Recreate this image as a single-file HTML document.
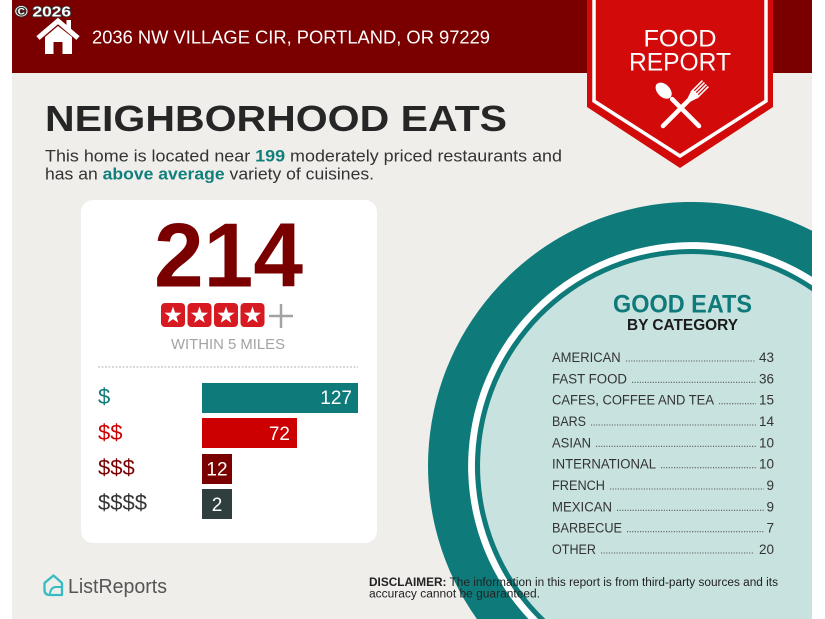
<!DOCTYPE html>
<html>
<head>
<meta charset="utf-8">
<style>
  html,body{margin:0;padding:0;background:#fff;width:825px;height:619px;overflow:hidden;}
  body{position:relative;}
  svg{position:absolute;left:0;top:0;display:block;}
  text{font-family:"Liberation Sans",Arial,sans-serif;}
</style>
</head>
<body>
<svg width="825" height="619" viewBox="0 0 825 619" xmlns="http://www.w3.org/2000/svg">
  <defs>
    <g id="star">
      <polygon points="0,-9 2.12,-2.91 8.56,-2.78 3.42,1.11 5.29,7.28 0,3.6 -5.29,7.28 -3.42,1.11 -8.56,-2.78 -2.12,-2.91" fill="#fff"/>
    </g>
  </defs>

  <!-- page card background -->
  <rect x="12" y="0" width="800" height="619" fill="#f0eeeb"/>

  <!-- big circle (pre-clipped arcs) -->
  <path d="M812,230.8 A264,264 0 0 0 476.9,619 L812,619 Z" fill="#0f7a7a"/>
  <path d="M812,276.9 A224,224 0 0 0 528.4,619 L812,619 Z" fill="#ffffff"/>
  <path d="M812,285.2 A217,217 0 0 0 538.1,619 L812,619 Z" fill="#0f7a7a"/>
  <path d="M812,291.2 A212,212 0 0 0 545.3,619 L812,619 Z" fill="#c7e2df"/>

  <!-- top bar -->
  <rect x="12" y="0" width="800" height="73" fill="#7a0000"/>

  <!-- house icon -->
  <path d="M45,37 L58,26 L72,37 V54 H62.5 V42 H53.5 V54 H45 Z" fill="#fff"/>
  <polyline points="38,38 58,21 78,38" fill="none" stroke="#fff" stroke-width="5"/>
  <rect x="66.5" y="20" width="4.5" height="10" fill="#fff"/>

  <!-- copyright -->
  <text x="15" y="16.5" font-size="15" font-weight="bold" fill="#fff" stroke="#333" stroke-width="1.6" paint-order="stroke" textLength="56" lengthAdjust="spacingAndGlyphs">© 2026</text>

  <!-- address -->
  <text x="92" y="43.5" font-size="18.6" fill="#fff" textLength="398" lengthAdjust="spacingAndGlyphs">2036 NW VILLAGE CIR, PORTLAND, OR 97229</text>

  <!-- banner -->
  <polygon points="587,0 773,0 773,107 680,168 587,107" fill="#d20a0a"/>
  <polyline points="594,0 594,101 680,156 766,101 766,0" fill="none" stroke="#fff" stroke-width="3.5"/>
  <text x="680" y="46.7" font-size="24" fill="#fff" text-anchor="middle" textLength="73" lengthAdjust="spacingAndGlyphs">FOOD</text>
  <text x="680" y="70.7" font-size="25" fill="#fff" text-anchor="middle" textLength="102" lengthAdjust="spacingAndGlyphs">REPORT</text>

  <!-- spoon -->
  <g transform="translate(699,126) rotate(-45)">
    <line x1="0" y1="0" x2="0" y2="-38" stroke="#fff" stroke-width="4.5" stroke-linecap="round"/>
    <ellipse cx="0" cy="-50" rx="6.3" ry="9.5" fill="#fff"/>
  </g>
  <!-- fork -->
  <g transform="translate(663,126) rotate(45)">
    <line x1="0" y1="0" x2="0" y2="-38" stroke="#fff" stroke-width="4.5" stroke-linecap="round"/>
    <path d="M-2.3,-37 L-5,-45 L5,-45 L2.3,-37 Z" fill="#fff"/>
    <rect x="-5" y="-47" width="10" height="3" fill="#fff"/>
    <rect x="-5" y="-60" width="1.6" height="14" fill="#fff"/>
    <rect x="-2.2" y="-60" width="1.6" height="14" fill="#fff"/>
    <rect x="0.6" y="-60" width="1.6" height="14" fill="#fff"/>
    <rect x="3.4" y="-60" width="1.6" height="14" fill="#fff"/>
  </g>

  <!-- title -->
  <text x="45" y="131" font-size="36.5" font-weight="bold" fill="#262626" textLength="462" lengthAdjust="spacingAndGlyphs">NEIGHBORHOOD EATS</text>

  <!-- subtitle -->
  <text x="45" y="161.7" font-size="17" fill="#333" textLength="517" lengthAdjust="spacingAndGlyphs">This home is located near <tspan font-weight="bold" fill="#117f7c">199</tspan> moderately priced restaurants and</text>
  <text x="45" y="179.3" font-size="17" fill="#333" textLength="329" lengthAdjust="spacingAndGlyphs">has an <tspan font-weight="bold" fill="#117f7c">above average</tspan> variety of cuisines.</text>

  <!-- white card -->
  <rect x="81" y="200" width="296" height="343" rx="12" ry="12" fill="#ffffff"/>

  <text x="154" y="286.7" font-size="91" font-weight="bold" fill="#7a0000" textLength="149" lengthAdjust="spacingAndGlyphs">214</text>

  <!-- stars -->
  <rect x="161" y="303" width="24" height="24" rx="4" fill="#d71a21"/>
  <rect x="187.5" y="303" width="24" height="24" rx="4" fill="#d71a21"/>
  <rect x="214" y="303" width="24" height="24" rx="4" fill="#d71a21"/>
  <rect x="240.5" y="303" width="24" height="24" rx="4" fill="#d71a21"/>
  <use href="#star" transform="translate(173,315.5)"/>
  <use href="#star" transform="translate(199.5,315.5)"/>
  <use href="#star" transform="translate(226,315.5)"/>
  <use href="#star" transform="translate(252.5,315.5)"/>
  <line x1="269" y1="316" x2="293" y2="316" stroke="#a3a3a3" stroke-width="2.5"/>
  <line x1="281" y1="304" x2="281" y2="328" stroke="#a3a3a3" stroke-width="2.5"/>

  <text x="171" y="349" font-size="15" fill="#a3a3a3" textLength="114" lengthAdjust="spacingAndGlyphs">WITHIN 5 MILES</text>

  <line x1="98" y1="367" x2="358" y2="367" stroke="#b5b5b5" stroke-width="1" stroke-dasharray="2 1.5"/>

  <!-- bars -->
  <rect x="202" y="383" width="156" height="30" fill="#0f7a7a"/>
  <rect x="202" y="418" width="95" height="30" fill="#cc0000"/>
  <rect x="202" y="454" width="30" height="30" fill="#7a0000"/>
  <rect x="202" y="489" width="30" height="30" fill="#2f3f3f"/>

  <text x="352" y="404" font-size="19" fill="#fff" text-anchor="end">127</text>
  <text x="290" y="440" font-size="19" fill="#fff" text-anchor="end">72</text>
  <text x="217" y="475.5" font-size="19" fill="#fff" text-anchor="middle">12</text>
  <text x="217" y="511" font-size="19" fill="#fff" text-anchor="middle">2</text>

  <text x="98" y="404" font-size="22" fill="#0f7a7a">$</text>
  <text x="98" y="440" font-size="22" fill="#cc0000">$$</text>
  <text x="98" y="475" font-size="22" fill="#7a0000">$$$</text>
  <text x="98" y="510" font-size="22" fill="#333">$$$$</text>

  <!-- good eats -->
  <text x="613" y="312.7" font-size="25" font-weight="bold" fill="#0f7a7a" textLength="139" lengthAdjust="spacingAndGlyphs">GOOD EATS</text>
  <text x="627" y="330" font-size="16" font-weight="bold" fill="#1a1a1a" textLength="111" lengthAdjust="spacingAndGlyphs">BY CATEGORY</text>

  <g font-size="13.5" fill="#333">
    <text x="552" y="362" textLength="68.7" lengthAdjust="spacingAndGlyphs">AMERICAN</text>
    <text x="774" y="362" text-anchor="end">43</text>
    <text x="552" y="383.3" textLength="75" lengthAdjust="spacingAndGlyphs">FAST FOOD</text>
    <text x="774" y="383.3" text-anchor="end">36</text>
    <text x="552" y="404.7" textLength="162" lengthAdjust="spacingAndGlyphs">CAFES, COFFEE AND TEA</text>
    <text x="774" y="404.7" text-anchor="end">15</text>
    <text x="552" y="426" textLength="34" lengthAdjust="spacingAndGlyphs">BARS</text>
    <text x="774" y="426" text-anchor="end">14</text>
    <text x="552" y="447.3" textLength="39" lengthAdjust="spacingAndGlyphs">ASIAN</text>
    <text x="774" y="447.3" text-anchor="end">10</text>
    <text x="552" y="468.7" textLength="104" lengthAdjust="spacingAndGlyphs">INTERNATIONAL</text>
    <text x="774" y="468.7" text-anchor="end">10</text>
    <text x="552" y="490" textLength="53" lengthAdjust="spacingAndGlyphs">FRENCH</text>
    <text x="774" y="490" text-anchor="end">9</text>
    <text x="552" y="511.3" textLength="60" lengthAdjust="spacingAndGlyphs">MEXICAN</text>
    <text x="774" y="511.3" text-anchor="end">9</text>
    <text x="552" y="532.7" textLength="70" lengthAdjust="spacingAndGlyphs">BARBECUE</text>
    <text x="774" y="532.7" text-anchor="end">7</text>
    <text x="552" y="554" textLength="44" lengthAdjust="spacingAndGlyphs">OTHER</text>
    <text x="774" y="554" text-anchor="end">20</text>
  </g>
  <g stroke="#555" stroke-width="1.1" stroke-dasharray="1.1 1.5">
    <line x1="626" y1="361" x2="756" y2="361"/>
    <line x1="632" y1="382.3" x2="756" y2="382.3"/>
    <line x1="719" y1="403.7" x2="756" y2="403.7"/>
    <line x1="591" y1="425" x2="756" y2="425"/>
    <line x1="596" y1="446.3" x2="756" y2="446.3"/>
    <line x1="661" y1="467.7" x2="756" y2="467.7"/>
    <line x1="610" y1="489" x2="764" y2="489"/>
    <line x1="617" y1="510.3" x2="764" y2="510.3"/>
    <line x1="627" y1="531.7" x2="764" y2="531.7"/>
    <line x1="601" y1="553" x2="754" y2="553"/>
  </g>

  <!-- ListReports logo -->
  <path d="M44.5,583 L53.5,575.5 L62,583 V595 H50 Q44.5,595 44.5,590 Z" fill="none" stroke="#36bcc0" stroke-width="2.3" stroke-linejoin="round"/>
  <path d="M50,595 Q50,587 56.5,587 L62,587" fill="none" stroke="#36bcc0" stroke-width="1.9"/>
  <text x="68" y="593" font-size="20" fill="#555" textLength="99" lengthAdjust="spacingAndGlyphs">ListReports</text>

  <!-- disclaimer -->
  <text x="369" y="586" font-size="11.5" fill="#222" textLength="409" lengthAdjust="spacingAndGlyphs"><tspan font-weight="bold">DISCLAIMER:</tspan> The information in this report is from third-party sources and its</text>
  <text x="369" y="597.5" font-size="11.5" fill="#222" textLength="171" lengthAdjust="spacingAndGlyphs">accuracy cannot be guaranteed.</text>
</svg>
</body>
</html>
